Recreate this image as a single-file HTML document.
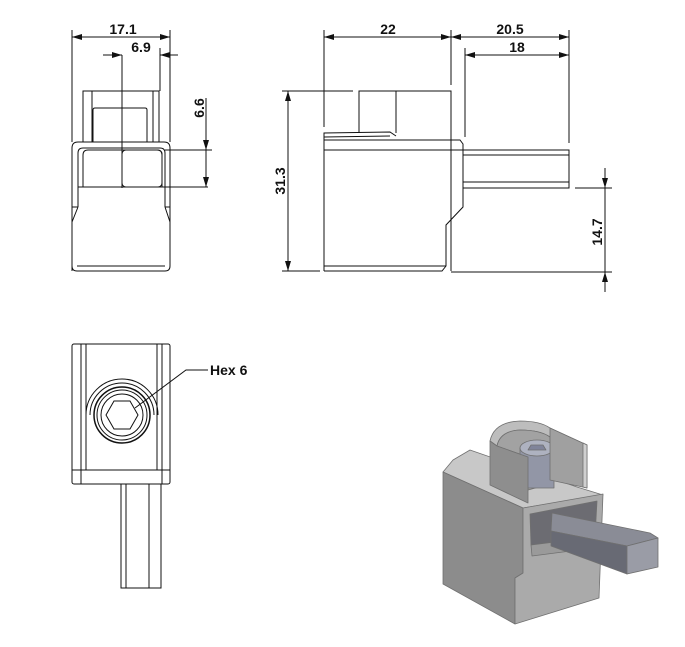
<!DOCTYPE html>
<html><head><meta charset="utf-8"><style>
html,body{margin:0;padding:0;background:#fff}
svg{display:block}
text{font-family:"Liberation Sans",Arial,sans-serif;font-weight:bold;fill:#111}
</style></head><body>
<svg width="685" height="647" viewBox="0 0 685 647" xmlns="http://www.w3.org/2000/svg">
<defs>
<marker id="a" viewBox="0 0 10 6" refX="10" refY="3" markerWidth="10" markerHeight="6" orient="auto-start-reverse" markerUnits="userSpaceOnUse"><path d="M0,0 L10,3 L0,6 z" fill="#111"/></marker>
</defs>
<g stroke="#111" stroke-width="1" fill="none">
<!-- FRONT VIEW -->
<line x1="72" y1="30" x2="72" y2="142"/>
<line x1="170" y1="30" x2="170" y2="142"/>
<line x1="72" y1="37" x2="170" y2="37" marker-start="url(#a)" marker-end="url(#a)"/>
<line x1="103" y1="55" x2="122" y2="55" marker-end="url(#a)"/>
<line x1="178" y1="55" x2="160" y2="55" marker-end="url(#a)"/>
<line x1="122" y1="55" x2="122" y2="188"/>
<line x1="160" y1="48" x2="160" y2="91"/>
<rect x="83" y="91" width="76" height="51"/>
<line x1="92" y1="91" x2="92" y2="142"/><line x1="153" y1="91" x2="153" y2="142"/>
<path d="M93,142 V110 Q93,108 95,108 H145 Q147,108 147,110 V142"/>
<path d="M72,271 V148 Q72,142 78,142 H164 Q170,142 170,148 V266 Q170,271 165,271 H77 Q72,271 72,266"/>
<path d="M78,207 V153 Q78,148 83,148 H160 Q165,148 165,153 V207"/>
<path d="M72,207 H78 M72,222 L78,207 M165,207 H170 M165,207 L170,222"/>
<path d="M83,187 V155 Q83,150 88,150 H157 Q162,150 162,155 V187"/>
<rect x="122" y="150" width="40" height="37" rx="4"/>
<line x1="78" y1="187" x2="208" y2="187"/>
<line x1="165" y1="150" x2="212" y2="150"/>
<line x1="206" y1="98" x2="206" y2="150" marker-end="url(#a)"/>
<line x1="206" y1="165" x2="206" y2="187" marker-end="url(#a)"/>
<line x1="206" y1="150" x2="206" y2="165"/>
<line x1="77" y1="266" x2="165" y2="266"/>

<!-- SIDE VIEW -->
<line x1="324" y1="30" x2="324" y2="127"/>
<line x1="451" y1="30" x2="451" y2="85"/>
<line x1="569" y1="30" x2="569" y2="143"/>
<line x1="465" y1="48" x2="465" y2="137"/>
<line x1="324" y1="37" x2="451" y2="37" marker-start="url(#a)" marker-end="url(#a)"/>
<line x1="451" y1="37" x2="569" y2="37" marker-start="url(#a)" marker-end="url(#a)"/>
<line x1="465" y1="55" x2="569" y2="55" marker-start="url(#a)" marker-end="url(#a)"/>
<line x1="282" y1="91" x2="353" y2="91"/>
<line x1="282" y1="271" x2="320" y2="271"/>
<line x1="288" y1="91" x2="288" y2="271" marker-start="url(#a)" marker-end="url(#a)"/>
<path d="M359,133 V91 H451 V271"/>
<line x1="396" y1="91" x2="396" y2="133"/>
<path d="M324,271 V133 L390,132 L396,136"/>
<line x1="324" y1="137" x2="390" y2="136"/>
<path d="M324,140 H460 L463,144 V207 L446,225 V266 L442,271 H324"/>
<line x1="324" y1="150" x2="463" y2="150"/>
<line x1="324" y1="266" x2="446" y2="266"/>
<rect x="463" y="150" width="106" height="38"/>
<line x1="463" y1="155" x2="569" y2="155"/>
<line x1="463" y1="182" x2="569" y2="182"/>
<line x1="575" y1="188" x2="612" y2="188"/>
<line x1="451" y1="272" x2="612" y2="272"/>
<line x1="605" y1="168" x2="605" y2="188" marker-end="url(#a)"/>
<line x1="605" y1="292" x2="605" y2="272" marker-end="url(#a)"/>
<line x1="605" y1="188" x2="605" y2="272"/>

<!-- BOTTOM VIEW -->
<rect x="72" y="344" width="98" height="140" rx="2"/>
<line x1="72" y1="470" x2="170" y2="470"/>
<line x1="81" y1="470" x2="81" y2="484"/><line x1="162" y1="470" x2="162" y2="484"/>
<line x1="81" y1="344" x2="81" y2="470"/><line x1="86" y1="344" x2="86" y2="470"/>
<line x1="157" y1="344" x2="157" y2="470"/><line x1="162" y1="344" x2="162" y2="470"/>
<path d="M86,415 A36,36 0 0 1 158,415"/>
<path d="M90,415 A32,32 0 0 1 154,415"/>
<circle cx="122" cy="415" r="28" stroke-width="1.5"/>
<circle cx="122" cy="415" r="25"/>
<circle cx="122" cy="415" r="21"/>
<polygon points="138,415 130,401 114,401 106,415 114,429 130,429"/>
<rect x="121" y="484" width="40" height="104"/>
<line x1="126" y1="484" x2="126" y2="588"/>
<line x1="149" y1="484" x2="149" y2="588"/>
<polyline points="135,408 186,370 208,370"/>
</g>
<text x="123" y="34" font-size="14" text-anchor="middle">17.1</text>
<text x="141" y="52" font-size="14" text-anchor="middle">6.9</text>
<text transform="translate(204,108) rotate(-90)" font-size="14" text-anchor="middle">6.6</text>
<text x="388" y="34" font-size="14" text-anchor="middle">22</text>
<text x="510" y="34" font-size="14" text-anchor="middle">20.5</text>
<text x="517" y="52" font-size="14" text-anchor="middle">18</text>
<text transform="translate(285,181) rotate(-90)" font-size="14" text-anchor="middle">31.3</text>
<text transform="translate(602,232) rotate(-90)" font-size="14" text-anchor="middle">14.7</text>
<text x="210" y="375" font-size="14">Hex 6</text>

<!-- 3D VIEW -->
<g stroke="#707070" stroke-width="0.8" stroke-linejoin="round">
<!-- top plate -->
<polygon points="443,472 453,460 470,450 577,487 603,495 523,508" fill="#c8c8c8"/>
<!-- boss back rim interior -->
<path d="M490,441 Q494,422 520,421 Q540,421 550,428 L587,445 L587,450 L550,437 Q540,430 520,430 Q500,431 497,446 Z" fill="#bdbdbd"/>
<path d="M497,446 Q500,431 520,430 Q540,430 550,437 L550,484 L528,490 L528,457 Z" fill="#a2a2a2"/>
<!-- screw -->
<rect x="520" y="448" width="34" height="40" fill="#9296a6"/>
<ellipse cx="537" cy="448" rx="17" ry="8" fill="#aeb2c0"/>
<polygon points="531,445 543,445 546,450 528,450" fill="#80849a"/>
<!-- left boss wall -->
<polygon points="490,441 497,446 528,457 528,503 490,485" fill="#8e8e8e"/>
<!-- right plate -->
<polygon points="550,428 587,445 587,488 550,480" fill="#a0a0a0"/>
<polygon points="583,443 587,445 587,488 583,487" fill="#d0d0d0"/>
<!-- body left face -->
<polygon points="443,472 523,508 523,573 515,578 515,624 443,584" fill="#8c8c8c"/>
<!-- body right face -->
<polygon points="523,508 603,494 599,598 515,624 515,578 523,573" fill="#aaaaaa"/>
<!-- window -->
<polygon points="530,514 597,501 595,537 531,545" fill="#6c6c72"/>
<polygon points="531,545 595,537 594,548 532,556" fill="#9a9a9a"/>
<!-- shaft -->
<polygon points="552,513 650,533 658,538 627,546 551,531" fill="#8a8c96"/>
<polygon points="551,531 627,546 627,574 551,546" fill="#686a74"/>
<polygon points="627,546 658,538 658,567 627,574" fill="#9a9ca6"/>
</g>
</svg>
</body></html>
